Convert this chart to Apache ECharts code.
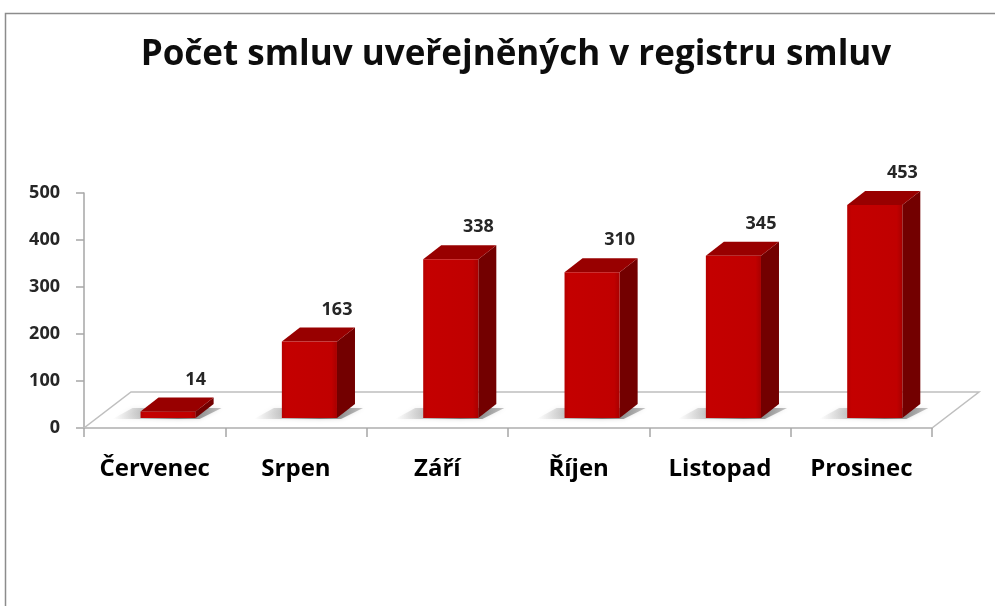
<!DOCTYPE html>
<html>
<head>
<meta charset="utf-8">
<script src="https://cdn.jsdelivr.net/npm/echarts@6/dist/echarts.min.js"></script>
<style>
  html, body { margin: 0; padding: 0; background: #fff; }
  #chart { width: 995px; height: 606px; }
</style>
</head>
<body>
<div id="chart"></div>
<script>
const months = ['Červenec', 'Srpen', 'Září', 'Říjen', 'Listopad', 'Prosinec'];
const counts = [14, 163, 338, 310, 345, 453];

// 3D look: floor depth and bar depth offsets (px)
const floorDx = 47;
const floorDy = -36;
const barDx = 18;
const barDy = -14;
const lift = 10;

const chart = echarts.init(document.getElementById('chart'));

function renderFloor(params, api) {
  const bw = api.size([1, 0])[0];
  const first = api.coord([0, 0]);
  const last = api.coord([months.length - 1, 0]);
  const l = first[0] - bw / 2;
  const r = last[0] + bw / 2;
  const y = first[1];
  return {
    type: 'polygon',
    shape: {
      points: [[l, y], [r, y], [r + floorDx, y + floorDy], [l + floorDx, y + floorDy]],
    },
    style: { fill: '#fff', stroke: '#bfbfbf', lineWidth: 1.5 },
  };
}

function renderBar(params, api) {
  const idx = api.value(0);
  const val = api.value(1);
  const bw = api.size([1, 0])[0];
  const c = api.coord([idx, val]);
  const base = api.coord([idx, 0]);
  const w = bw * 0.39;
  const x0 = c[0] - w / 2 + bw * 0.095;
  const x1 = x0 + w;
  const yb = base[1] - lift;
  const yt = c[1] - lift;
  return {
    type: 'group',
    children: [
      {
        // shadow on floor
        type: 'polygon',
        shape: {
          points: [[x0 - 28, yb + 1], [x1 + 4, yb + 1], [x1 + barDx + 8, yb + barDy + 4], [x0 - 8, yb + barDy + 4]],
        },
        style: {
          fill: new echarts.graphic.LinearGradient(0, 0, 1, 0, [
            { offset: 0, color: 'rgba(120,120,120,0)' },
            { offset: 0.6, color: 'rgba(70,70,70,0.7)' },
            { offset: 1, color: 'rgba(70,70,70,0.3)' },
          ]),
          shadowBlur: 4,
          shadowColor: 'rgba(0,0,0,0.25)',
        },
      },
      {
        type: 'polygon',
        shape: {
          points: [[x1, yb], [x1 + barDx, yb + barDy], [x1 + barDx, yt + barDy], [x1, yt]],
        },
        style: { fill: '#730000' },
      },
      {
        type: 'polygon',
        shape: {
          points: [[x0, yt], [x1, yt], [x1 + barDx, yt + barDy], [x0 + barDx, yt + barDy]],
        },
        style: { fill: '#980000' },
      },
      {
        type: 'rect',
        shape: { x: x0, y: yt, width: w, height: yb - yt },
        style: {
          fill: new echarts.graphic.LinearGradient(0, 0, 1, 0, [
            { offset: 0, color: '#b50000' },
            { offset: 0.08, color: '#c40000' },
            { offset: 0.9, color: '#c00000' },
            { offset: 1, color: '#a80000' },
          ]),
        },
      },
      {
        type: 'text',
        style: {
          x: x1,
          y: yt - 32,
          text: String(val),
          fill: '#262626',
          font: 'bold 18px "Open Sans"',
          align: 'center',
          verticalAlign: 'middle',
        },
      },
    ],
  };
}

const option = {
  animation: false,
  backgroundColor: '#fff',
  title: {
    text: 'Počet smluv uveřejněných v registru smluv',
    left: 511,
    top: 33,
    textAlign: 'center',
    textStyle: {
      fontFamily: 'Open Sans',
      fontWeight: 'bold',
      fontSize: 35,
      color: '#0d0d0d',
    },
  },
  graphic: [
    {
      type: 'polyline',
      shape: { points: [[5.5, 606], [5.5, 13.5], [995, 13.5]] },
      style: { stroke: '#8c8c8c', lineWidth: 1.5, fill: null },
    },
  ],
  grid: {
    left: 84,
    right: 63,
    top: 193,
    bottom: 178,
  },
  xAxis: {
    type: 'category',
    data: months,
    boundaryGap: true,
    axisLine: { lineStyle: { color: '#bfbfbf', width: 1.5 } },
    axisTick: { show: true, interval: 0, length: 9, lineStyle: { color: '#a6a6a6', width: 1.5 } },
    axisLabel: {
      interval: 0,
      margin: 29,
      fontFamily: 'Open Sans',
      fontWeight: 'bold',
      fontSize: 24,
      color: '#000',
    },
    z: 5,
  },
  yAxis: {
    type: 'value',
    min: 0,
    max: 500,
    interval: 100,
    splitLine: { show: false },
    axisLine: { show: true, lineStyle: { color: '#a6a6a6', width: 1.5 } },
    axisTick: { show: true, length: 8, lineStyle: { color: '#a6a6a6', width: 1.5 } },
    axisLabel: {
      margin: 24,
      fontFamily: 'Open Sans',
      fontWeight: 'bold',
      fontSize: 18,
      color: '#262626',
    },
  },
  series: [
    {
      type: 'custom',
      renderItem: renderFloor,
      data: [[0, 0]],
      z: 1,
      silent: true,
    },
    {
      type: 'custom',
      renderItem: renderBar,
      encode: { x: 0, y: 1 },
      data: counts.map((v, i) => [i, v]),
      z: 2,
    },
  ],
};

chart.setOption(option, true);
</script>
</body>
</html>
